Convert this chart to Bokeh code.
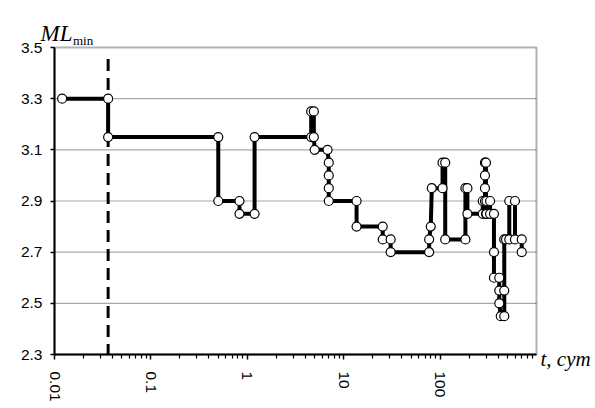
import math
from bokeh.plotting import figure
from bokeh.models import FixedTicker, Label, Range1d, BoxAnnotation
from bokeh.embed import file_html
from bokeh.resources import INLINE

# ---- data ----
t_days = [0.012, 0.036, 0.036, 0.50, 0.50, 0.83, 0.83, 1.19, 1.19, 4.6,
          4.6, 4.9, 4.9, 5.0, 6.8, 7.0, 7.0, 7.0, 7.0, 13.6,
          13.6, 25.4, 25.4, 30.7, 30.7, 77, 77, 80, 82, 106,
          106, 113, 113, 183, 183, 192, 192, 277, 277, 292,
          292, 292, 292, 299, 299, 303, 303, 330, 330, 362,
          362, 362, 411, 411, 411, 426, 463, 463, 463, 483,
          522, 522, 598, 598, 703, 703]
ml_min = [3.30, 3.30, 3.15, 3.15, 2.90, 2.90, 2.85, 2.85, 3.15, 3.15,
          3.25, 3.25, 3.15, 3.10, 3.10, 3.05, 3.00, 2.95, 2.90, 2.90,
          2.80, 2.80, 2.75, 2.75, 2.70, 2.70, 2.75, 2.80, 2.95, 2.95,
          3.05, 3.05, 2.75, 2.75, 2.95, 2.95, 2.85, 2.85, 2.90, 2.90,
          2.95, 3.00, 3.05, 3.05, 2.85, 2.85, 2.90, 2.90, 2.85, 2.85,
          2.70, 2.60, 2.60, 2.55, 2.50, 2.45, 2.45, 2.55, 2.75, 2.75,
          2.75, 2.90, 2.90, 2.75, 2.75, 2.70]

event_t = 0.036
event_ml = [3.455, 2.3]

x_ticks = [0.01, 0.1, 1, 10, 100]
x_tick_labels = ["0.01", "0.1", "1", "10", "100"]
x_minor = [k * 10.0 ** d for d in range(-2, 3) for k in range(2, 10)]
y_ticks = [2.3, 2.5, 2.7, 2.9, 3.1, 3.3, 3.5]
y_tick_labels = ["2.3", "2.5", "2.7", "2.9", "3.1", "3.3", "3.5"]

X_MIN, X_MAX = 0.01, 1000
Y_MIN, Y_MAX = 2.3, 3.5

# ---- layout: plotting box inside a 595x408 canvas ----
W, H = 595, 408
M_LEFT, M_RIGHT, M_TOP, M_BOTTOM = 54, 59, 47, 54
px_dec = (W - M_LEFT - M_RIGHT) / (math.log10(X_MAX) - math.log10(X_MIN))
px_unit = (H - M_TOP - M_BOTTOM) / (Y_MAX - Y_MIN)
x_range = Range1d(10 ** (math.log10(X_MIN) - M_LEFT / px_dec),
                  10 ** (math.log10(X_MAX) + M_RIGHT / px_dec))
y_range = Range1d(Y_MIN - M_BOTTOM / px_unit, Y_MAX + M_TOP / px_unit)

p = figure(width=W, height=H, x_axis_type="log", title=None,
           x_range=x_range, y_range=y_range,
           output_backend="svg", toolbar_location=None, min_border=0)
p.min_border_left = p.min_border_right = p.min_border_top = p.min_border_bottom = 0
p.background_fill_color = "white"
p.border_fill_color = "white"
p.outline_line_color = None

# axes pinned to the plotting box edges
p.xaxis.fixed_location = Y_MIN
p.yaxis.fixed_location = X_MIN
p.xaxis.bounds = (X_MIN, X_MAX)
p.yaxis.bounds = (Y_MIN, Y_MAX)
p.xaxis.ticker = FixedTicker(ticks=x_ticks, minor_ticks=x_minor)
p.xaxis.major_label_overrides = dict(zip(x_ticks, x_tick_labels))
p.xaxis.major_label_orientation = "vertical"
p.yaxis.ticker = FixedTicker(ticks=y_ticks)
p.yaxis.major_label_overrides = dict(zip(y_ticks, y_tick_labels))
for ax in (p.xaxis, p.yaxis):
    ax.axis_line_color = "black"
    ax.axis_line_width = 2
    ax.major_tick_line_color = "black"
    ax.major_tick_line_width = 1.5
    ax.minor_tick_line_color = "black"
    ax.minor_tick_line_width = 1.2
    ax.major_tick_in = 0
    ax.minor_tick_in = 0
    ax.major_label_text_font = "Liberation Sans"
    ax.major_label_text_font_size = "15.5px"
    ax.major_label_text_color = "black"
p.xaxis.major_tick_out = 5
p.xaxis.minor_tick_out = 4
p.xaxis.major_label_standoff = 12
p.yaxis.major_tick_out = 4
p.yaxis.minor_tick_out = 0
p.yaxis.major_label_standoff = 8

# horizontal grid lines limited to the plotting box
p.xgrid.visible = False
p.ygrid.visible = False
grid_y = y_ticks[1:-1]
p.segment(x0=[X_MIN] * len(grid_y), x1=[X_MAX] * len(grid_y), y0=grid_y, y1=grid_y,
          line_color="#a8a8a8", line_width=1.2)

# plotting-box border (top/right)
p.add_layout(BoxAnnotation(left=X_MIN, right=X_MAX, bottom=Y_MIN, top=Y_MAX,
                           fill_alpha=0, line_color="black", line_width=2))

# dashed event line
p.line([event_t, event_t], event_ml, line_color="black", line_width=3,
       line_dash="12 7")

# step line with markers
p.line(t_days, ml_min, line_color="black", line_width=4, line_join="miter")
p.scatter(t_days, ml_min, marker="circle", size=9, fill_color="white",
          line_color="black", line_width=1.2)

# axis titles (canvas coordinates, y measured from top)
p.add_layout(Label(x=40, y=33, x_units="canvas", y_units="canvas", text="ML",
                   text_font="Liberation Serif", text_font_style="italic",
                   text_font_size="23px", text_color="black",
                   text_baseline="alphabetic"))
p.add_layout(Label(x=72.5, y=40, x_units="canvas", y_units="canvas", text="min",
                   text_font="Liberation Serif", text_font_size="13px",
                   text_color="black", text_baseline="alphabetic"))
p.add_layout(Label(x=540, y=358, x_units="canvas", y_units="canvas", text="t, cym",
                   text_font="Liberation Serif", text_font_style="italic",
                   text_font_size="21px", text_color="black",
                   text_baseline="alphabetic"))

open("out.html", "w").write(file_html(p, INLINE))
